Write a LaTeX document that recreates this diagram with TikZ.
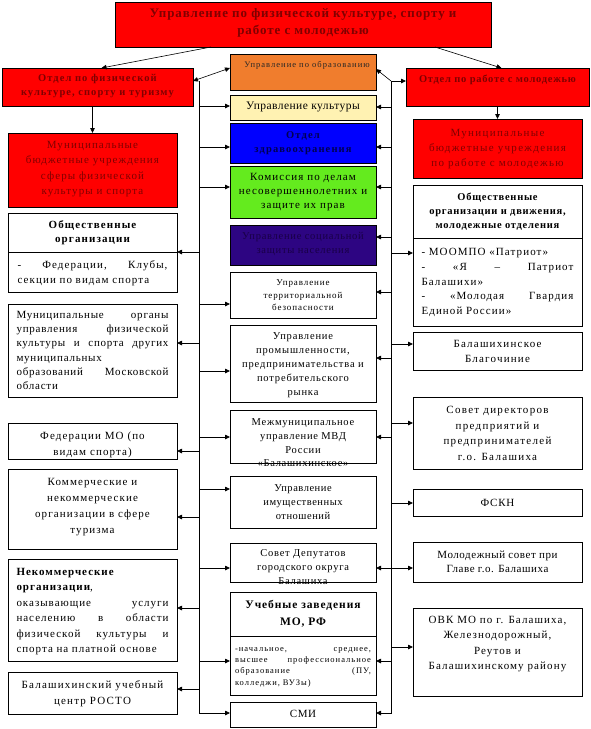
\documentclass[tikz,border=0pt]{standalone}
\usepackage{fontspec}
\setmainfont{Liberation Serif}
\usetikzlibrary{arrows.meta}
\definecolor{dred}{RGB}{128,0,0}
\definecolor{redf}{RGB}{255,0,0}
\definecolor{orangef}{RGB}{240,125,45}
\definecolor{yellowf}{RGB}{255,242,178}
\definecolor{bluef}{RGB}{0,0,255}
\definecolor{greenf}{RGB}{100,235,30}
\definecolor{purplef}{RGB}{45,5,130}
\definecolor{navyt}{RGB}{0,0,80}
\definecolor{purplet}{RGB}{25,0,70}
\newcommand\lsp[1]{\addfontfeature{LetterSpace=#1}}
\newcommand\fs[3]{\fontsize{#1}{#2}\selectfont\lsp{#3}}
\newcommand\fsb[3]{\fontsize{#1}{#2}\selectfont\bfseries\lsp{#3}}
\newcommand\bx[9]{%
  \node[boxbase,#6,anchor=north west,minimum width={(#4-#2)*1pt},minimum height={(#5-#3)*1pt}] (#1) at (#2,#3) {};
  \node[txt,#8] (#1-t) at ({(#2+#4)/2},#7) {#9};
}
\begin{document}
\begin{tikzpicture}[x=1pt,y=-1pt,
  boxbase/.style={draw=black,line width=0.7pt,inner sep=0pt,outer sep=0pt},
  txt/.style={inner sep=0pt,align=center},
  arr/.style={line width=0.8pt,-{Triangle[length=5pt,width=4.5pt]}},
  arrt/.style={line width=0.6pt,-{Triangle[length=5pt,width=4.5pt]}},
  arrb/.style={line width=0.6pt,{Triangle[length=5pt,width=4.5pt]}-{Triangle[length=5pt,width=4.5pt]}},
  sep/.style={line width=0.7pt}]
\useasboundingbox[fill=white] (0,0) rectangle (591,729);

% top level
\bx{T}{115}{2}{491}{47}{fill=redf}{23}{text=dred,font=\fsb{13}{17.5}{7}}{Управление по физической культуре, спорту и\\работе с молодежью}
\bx{L0}{2}{68}{193}{106}{fill=redf}{86}{text=dred,font=\fsb{10.5}{14}{10}}{Отдел по физической\\культуре, спорту и туризму}
\bx{R0}{406}{68}{589}{106}{fill=redf}{80}{text=dred,font=\fsb{10.5}{14}{7}}{Отдел по работе с молодежью}

% middle column
\bx{m1}{230}{54}{376}{90}{fill=orangef}{65}{xshift=4pt,text=black!85,font=\fs{8.5}{11}{12}}{Управление по образованию}
\bx{m2}{230}{95}{376}{120}{fill=yellowf}{107}{font=\fs{11.5}{14}{4}}{Управление культуры}
\bx{m3}{230}{123}{376}{163}{fill=bluef}{143}{text=navyt,font=\fsb{10.5}{14}{11}}{Отдел\\здравоохранения}
\bx{m4}{230}{166}{376}{218}{fill=greenf}{192}{font=\fs{11}{14}{10}}{Комиссия по делам\\несовершеннолетних и\\защите их прав}
\bx{m5}{230}{225}{376}{265}{fill=purplef}{244}{text=purplet,font=\fs{10.5}{14}{7}}{Управление социальной\\защиты населения}
\bx{m6}{230}{272}{376}{318}{fill=white}{295.5}{font=\fs{9}{12.5}{10}}{Управление\\территориальной\\безопасности}
\bx{m7}{230}{325}{376}{402}{fill=white}{365}{font=\fs{10.5}{14}{8}}{Управление\\промышленности,\\предпринимательства и\\потребительского\\рынка}
\bx{m8}{230}{410}{376}{463}{fill=white}{443}{font=\fs{10.5}{13.7}{7}}{Межмуниципальное\\управление МВД\\России\\«Балашихинское»}
\bx{m9}{230}{476}{376}{528}{fill=white}{502}{font=\fs{10.5}{14}{5}}{Управление\\имущественных\\отношений}
\bx{m10}{230}{543}{376}{582}{fill=white}{567}{font=\fs{10.5}{14}{7}}{Совет Депутатов\\городского округа\\Балашиха}
\bx{m11}{230}{592}{376}{695}{fill=white}{613.5}{font=\fsb{11.5}{17}{8}}{Учебные заведения\\МО, РФ}
\coordinate (m11s) at (230,636);
\draw[sep] (m11s) -- (m11s -| m11.east);
\node[txt,align=left,text width=136pt,font=\fs{8.5}{11.3}{12}] (m11-b) at (303,667) {-начальное,\hfill среднее,\\высшее\hfill профессиональное\\образование\hfill (ПУ,\\колледжи, ВУЗы)};
\bx{m12}{230}{702}{376}{727}{fill=white}{714}{font=\fs{11}{14}{6}}{СМИ}

% left column
\bx{l1}{8}{133}{177}{207}{fill=redf}{169}{text=dred,font=\fs{11}{15.3}{10}}{Муниципальные\\бюджетные учреждения\\сферы физической\\культуры и спорта}
\bx{l2}{8}{213}{177}{292}{fill=white}{232.5}{font=\fsb{11}{14}{10}}{Общественные\\организации}
\coordinate (l2s) at (8,252);
\draw[sep] (l2s) -- (l2s -| l2.east);
\node[txt,align=left,text width=150pt,font=\fs{11}{15.5}{10}] (l2-b) at (92.5,273) {-\hfill Федерации,\hfill Клубы,\\секции по видам спорта};
\bx{l3}{8}{304}{177}{397}{fill=white}{350.5}{align=left,text width=152pt,font=\fs{11}{14.2}{7}}{Муниципальные\hfill органы\\управления\hfill физической\hspace*{15pt}\\культуры\hfill и\hfill спорта\hfill других\\муниципальных\\образований\hfill Московской\\области}
\bx{l4}{8}{423}{177}{459}{fill=white}{444.5}{font=\fs{11}{16}{10}}{Федерации МО (по\\видам спорта)}
\bx{l5}{8}{469}{177}{549}{fill=white}{507}{font=\fs{11}{16}{10}}{Коммерческие и\\некоммерческие\\организации в сфере\\туризма}
\bx{l6}{8}{559}{177}{661}{fill=white}{611.5}{align=left,text width=152pt,font=\fs{11}{15.4}{9}}{\textbf{Некоммерческие}\\\textbf{организации},\\оказывающие\hfill услуги\\населению\hfill в\hfill области\\физической\hfill культуры\hfill и\\спорта на платной основе}
\bx{l7}{8}{672}{177}{714}{fill=white}{693.5}{font=\fs{11}{16}{11}}{Балашихинский учебный\\центр РОСТО}

% right column
\bx{r1}{413}{119}{582}{178}{fill=redf}{149}{text=dred,font=\fs{11}{15.3}{12}}{Муниципальные\\бюджетные учреждения\\по работе с молодежью}
\bx{r2}{413}{185}{582}{326}{fill=white}{212}{font=\fsb{10.5}{14}{7}}{Общественные\\организации и движения,\\молодежные отделения}
\coordinate (r2s) at (413,238);
\draw[sep] (r2s) -- (r2s -| r2.east);
\node[txt,align=left,text width=152pt,font=\fs{11}{14.8}{10}] (r2-b) at (497.5,282.5) {- МООМПО «Патриот»\\-\hfill «Я\hfill –\hfill Патриот\\Балашихи»\\-\hfill «Молодая\hfill Гвардия\\Единой России»};
\bx{r3}{413}{332}{582}{370}{fill=white}{351}{font=\fs{11}{15}{11}}{Балашихинское\\Благочиние}
\bx{r4}{413}{397}{582}{469}{fill=white}{433.5}{font=\fs{11}{15.7}{12}}{Совет директоров\\предприятий и\\предпринимателей\\г.о. Балашиха}
\bx{r5}{413}{489}{582}{516}{fill=white}{503}{font=\fs{11}{14}{7}}{ФСКН}
\bx{r6}{413}{542}{582}{582}{fill=white}{562}{font=\fs{11}{14}{5}}{Молодежный совет при\\Главе г.о. Балашиха}
\bx{r7}{413}{608}{582}{696}{fill=white}{644}{font=\fs{11}{15.5}{10}}{ОВК МО по г. Балашиха,\\Железнодорожный,\\Реутов и\\Балашихинскому району}

% top connectors
\draw[arrt] ([xshift=96pt]T.south west) -- ([xshift=4pt]L0.north);
\draw[arrt] ([xshift=-56pt]T.south east) -- ([xshift=4pt]R0.north);
\draw[arr] (l1.north |- L0.south) -- (l1.north);
\draw[arr] (r1.north |- R0.south) -- (r1.north);

% left bus
\coordinate (lA) at (199,81);
\coordinate (lB) at (199,713);
\draw[arrb] (lA -| L0.east) -- ([yshift=4pt]m1.west);
\draw[arr] (lA) -- (lB) -- (lB -| m12.west);
\foreach \yy/\nn in {106/m2,147/m3,187/m4,304/m6,371/m7,437/m8,489/m9,568/m10,661/m11}{
  \coordinate (p) at (199,\yy);
  \draw[arr] (p) -- (p -| \nn.west);
}
\foreach \yy/\nn in {252/l2,343/l3,451/l4,517/l5,608/l6,689/l7}{
  \coordinate (p) at (199,\yy);
  \draw[arr] (p) -- (p -| \nn.east);
}

% right bus
\coordinate (rA) at (391,81);
\coordinate (rB) at (391,713);
\draw[arrt] (rA) -- ([yshift=3pt]m1.east);
\draw[arr] (rA) -- (rA -| R0.west);
\draw[arr] (rA) -- (rB) -- (rB -| m12.east);
\foreach \yy/\nn in {107/m2,147/m3,187/m4,237/m5,292/m6,358/m7,437/m8,568/m10,661/m11}{
  \coordinate (p) at (391,\yy);
  \draw[arr] (p) -- (p -| \nn.east);
}
\foreach \yy/\nn in {253/r2,344/r3,423/r4,503/r5,568/r6,647/r7}{
  \coordinate (p) at (391,\yy);
  \draw[arr] (p) -- (p -| \nn.west);
}
\end{tikzpicture}
\end{document}
